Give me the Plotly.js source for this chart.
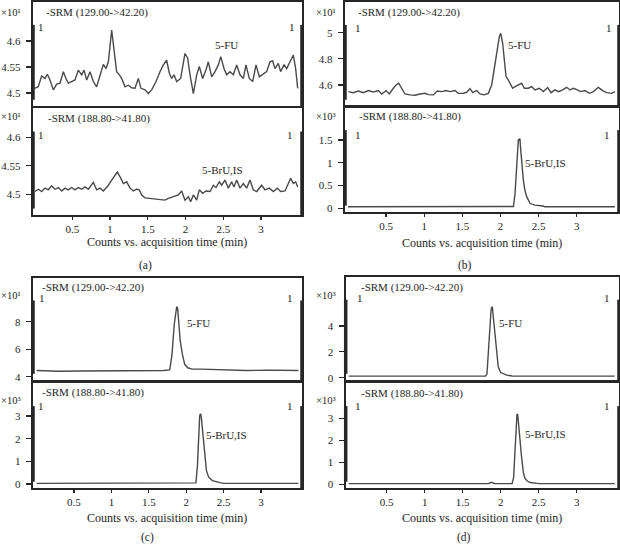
<!DOCTYPE html>
<html>
<head>
<meta charset="utf-8">
<script src="https://cdn.plot.ly/plotly-3.0.1.min.js"></script>
<style>
  html, body { margin: 0; padding: 0; background: #fff; }
  #chart { width: 620px; height: 545px; }
</style>
</head>
<body>
<div id="chart"></div>
<script>
// ---- data (time in min, counts in x10^n) ----

// (a) SRM 129.00->42.20 (x10^1)
let aTopTime = [0.0, 0.05, 0.095, 0.139, 0.17, 0.205, 0.249, 0.294, 0.338, 0.382,
  0.417, 0.448, 0.492, 0.536, 0.58, 0.625, 0.656, 0.691, 0.735, 0.779,
  0.823, 0.868, 0.912, 0.947, 0.978, 1.022, 1.053, 1.088, 1.124, 1.154,
  1.199, 1.243, 1.287, 1.331, 1.375, 1.41, 1.464, 1.508, 1.552, 1.609,
  1.662, 1.706, 1.75, 1.786, 1.817, 1.848, 1.883, 1.936, 1.993, 2.029,
  2.06, 2.104, 2.148, 2.183, 2.227, 2.271, 2.302, 2.347, 2.391, 2.435,
  2.466, 2.51, 2.545, 2.589, 2.633, 2.678, 2.722, 2.766, 2.801, 2.845,
  2.89, 2.934, 2.978, 3.022, 3.075, 3.119, 3.154, 3.185, 3.229, 3.26,
  3.305, 3.34, 3.384, 3.428, 3.459, 3.486]
let aTopCounts = [4.509, 4.512, 4.533, 4.528, 4.536, 4.525, 4.506, 4.517, 4.519, 4.541,
  4.528, 4.519, 4.522, 4.525, 4.544, 4.535, 4.544, 4.525, 4.541, 4.522,
  4.512, 4.535, 4.555, 4.547, 4.56, 4.621, 4.579, 4.541, 4.535, 4.528,
  4.512, 4.515, 4.51, 4.509, 4.528, 4.509, 4.506, 4.499, 4.506, 4.522,
  4.541, 4.554, 4.563, 4.538, 4.528, 4.535, 4.522, 4.528, 4.576, 4.567,
  4.535, 4.499, 4.535, 4.551, 4.528, 4.544, 4.56, 4.531, 4.541, 4.554,
  4.57, 4.547, 4.535, 4.541, 4.535, 4.554, 4.535, 4.528, 4.554, 4.528,
  4.522, 4.554, 4.531, 4.535, 4.541, 4.56, 4.562, 4.547, 4.557, 4.541,
  4.554, 4.547, 4.56, 4.573, 4.547, 4.509]

// (a) SRM 188.80->41.80 (x10^1)
let aBotTime = [0.007, 0.051, 0.095, 0.139, 0.183, 0.227, 0.271, 0.316, 0.36, 0.404,
  0.448, 0.492, 0.536, 0.58, 0.625, 0.669, 0.713, 0.779, 0.823, 0.868,
  0.912, 0.978, 1.022, 1.066, 1.097, 1.132, 1.177, 1.221, 1.265, 1.309,
  1.353, 1.388, 1.419, 1.464, 1.53, 1.596, 1.662, 1.728, 1.773, 1.839,
  1.905, 1.949, 1.993, 2.038, 2.068, 2.104, 2.148, 2.183, 2.227, 2.271,
  2.325, 2.369, 2.404, 2.448, 2.479, 2.523, 2.567, 2.611, 2.642, 2.678,
  2.722, 2.766, 2.81, 2.854, 2.898, 2.943, 3.009, 3.053, 3.11, 3.163,
  3.216, 3.26, 3.318, 3.362, 3.393, 3.428, 3.459, 3.486]
let aBotCounts = [4.505, 4.509, 4.505, 4.511, 4.508, 4.515, 4.509, 4.512, 4.506, 4.511,
  4.508, 4.512, 4.508, 4.512, 4.509, 4.513, 4.509, 4.521, 4.508, 4.511,
  4.506, 4.516, 4.525, 4.534, 4.539, 4.531, 4.519, 4.522, 4.511, 4.506,
  4.509, 4.508, 4.499, 4.494, 4.493, 4.492, 4.49, 4.49, 4.493, 4.496,
  4.499, 4.506, 4.49, 4.496, 4.487, 4.499, 4.49, 4.508, 4.502, 4.506,
  4.505, 4.516, 4.512, 4.522, 4.516, 4.525, 4.511, 4.522, 4.513, 4.525,
  4.511, 4.519, 4.511, 4.525, 4.508, 4.505, 4.516, 4.508, 4.511, 4.505,
  4.511, 4.505, 4.506, 4.519, 4.528, 4.519, 4.522, 4.513]

// (b) SRM 129.00->42.20 (x10^1)
let bTopTime = [0.006, 0.071, 0.137, 0.202, 0.268, 0.333, 0.399, 0.443, 0.5, 0.543,
  0.596, 0.631, 0.666, 0.705, 0.748, 0.814, 0.88, 0.945, 1.011, 1.054,
  1.12, 1.172, 1.229, 1.286, 1.338, 1.404, 1.448, 1.513, 1.557, 1.601,
  1.636, 1.688, 1.732, 1.784, 1.841, 1.885, 1.92, 1.95, 1.985, 2.003,
  2.029, 2.051, 2.073, 2.103, 2.134, 2.16, 2.191, 2.234, 2.278, 2.313,
  2.365, 2.409, 2.453, 2.51, 2.562, 2.619, 2.663, 2.715, 2.759, 2.815,
  2.868, 2.912, 2.955, 3.008, 3.051, 3.108, 3.165, 3.218, 3.283, 3.34,
  3.392, 3.458, 3.502]
let bTopCounts = [4.549, 4.541, 4.554, 4.541, 4.557, 4.546, 4.557, 4.531, 4.557, 4.531,
  4.575, 4.6, 4.613, 4.575, 4.531, 4.524, 4.521, 4.531, 4.536, 4.526,
  4.524, 4.554, 4.549, 4.557, 4.549, 4.557, 4.536, 4.536, 4.544, 4.572,
  4.541, 4.557, 4.531, 4.524, 4.536, 4.6, 4.74, 4.868, 4.97, 4.995,
  4.919, 4.791, 4.664, 4.638, 4.6, 4.575, 4.587, 4.6, 4.613, 4.575,
  4.575, 4.587, 4.562, 4.575, 4.549, 4.58, 4.541, 4.562, 4.549, 4.562,
  4.582, 4.562, 4.575, 4.562, 4.549, 4.557, 4.536, 4.549, 4.582, 4.557,
  4.541, 4.536, 4.549]

// (b) SRM 188.80->41.80 (x10^3)
let bBotTime = [0, 0.5, 1, 1.5, 2, 2.17, 2.19, 2.205, 2.221, 2.235, 2.243, 2.255,
  2.265, 2.28, 2.3, 2.32, 2.344, 2.387, 2.45, 2.56, 2.58, 3, 3.5]
let bBotCounts = [0.035, 0.035, 0.035, 0.035, 0.035, 0.04, 0.3, 0.8, 1.3, 1.52, 1.5, 1.53,
  1.3, 0.9, 0.62, 0.4, 0.256, 0.11, 0.07, 0.05, 0.035, 0.035, 0.035]

// (c) SRM 129.00->42.20 (x10^1)
let cTopTime = [0, 0.3, 0.6, 0.9, 1.2, 1.5, 1.7, 1.78, 1.81, 1.84, 1.86, 1.873, 1.885,
  1.9, 1.92, 1.95, 1.98, 2.02, 2.08, 2.2, 2.5, 2.8, 3.1, 3.3, 3.5]
let cTopCounts = [4.45, 4.4, 4.42, 4.42, 4.45, 4.42, 4.45, 4.5, 5.6, 7.8, 8.8, 9.1, 9.0,
  7.9, 6.6, 5.6, 4.9, 4.65, 4.55, 4.55, 4.5, 4.45, 4.48, 4.45, 4.45]

// (c) SRM 188.80->41.80 (x10^3)
let cBotTime = [0, 0.5, 1, 1.5, 2, 2.1, 2.13, 2.15, 2.165, 2.18, 2.19, 2.2, 2.215, 2.23,
  2.25, 2.27, 2.3, 2.35, 2.45, 2.5, 3, 3.5]
let cBotCounts = [0.03, 0.03, 0.03, 0.03, 0.03, 0.03, 0.05, 0.8, 2.0, 3.0, 3.1, 3.0, 2.5, 1.9,
  1.1, 0.6, 0.3, 0.15, 0.06, 0.03, 0.03, 0.03]

// (d) SRM 129.00->42.20 (x10^3)
let dTopTime = [0, 0.5, 1, 1.5, 1.8, 1.82, 1.84, 1.86, 1.875, 1.89, 1.905, 1.925, 1.945,
  1.968, 2.0, 2.04, 2.08, 2.15, 2.5, 3, 3.5]
let dTopCounts = [0.12, 0.12, 0.12, 0.12, 0.12, 0.3, 1.8, 4.0, 5.3, 5.5, 4.6, 3.2, 1.8,
  0.85, 0.4, 0.3, 0.2, 0.13, 0.12, 0.12, 0.12]

// (d) SRM 188.80->41.80 (x10^3)
let dBotTime = [0, 0.5, 1, 1.5, 1.84, 1.87, 1.89, 1.92, 2.0, 2.15, 2.17, 2.185, 2.2, 2.215,
  2.225, 2.24, 2.255, 2.27, 2.285, 2.3, 2.32, 2.35, 2.39, 2.45, 2.5, 3, 3.5]
let dBotCounts = [0.03, 0.03, 0.03, 0.03, 0.03, 0.08, 0.08, 0.03, 0.02, 0.03, 0.3, 1.3, 2.6, 3.2,
  3.15, 2.7, 2.0, 1.4, 0.8, 0.5, 0.27, 0.15, 0.08, 0.06, 0.03, 0.03, 0.03]

let xTickVals = [0.5, 1, 1.5, 2, 2.5, 3]
let xTickText = ['0.5', '1', '1.5', '2', '2.5', '3']
let srmTop = '-SRM (129.00->42.20)'
let srmBot = '-SRM (188.80->41.80)'
let axisTitle = 'Counts vs. acquisition time (min)'

// ---- layout helpers (pixel -> paper) ----
const W = 620, H = 545
let px = function(x) { return x / W }
let py = function(y) { return 1 - y / H }

const FONT = 'Liberation Serif, DejaVu Serif, serif'
const INK = '#262626'

// one entry per subplot: [time, counts, xdom px, ydom px (top,bottom), xrange, yrange, ytickvals, yticktext, bottom?]
let panels = [
  [aTopTime, aTopCounts, [33, 302], [2, 106], [-0.02, 3.543], [4.475, 4.675], [4.5, 4.55, 4.6], ['4.5', '4.55', '4.6'], false],
  [aBotTime, aBotCounts, [33, 302], [108, 215], [-0.02, 3.543], [4.464, 4.651], [4.5, 4.55, 4.6], ['4.5', '4.55', '4.6'], true],
  [bTopTime, bTopCounts, [345, 619], [2, 106], [-0.038, 3.554], [4.439, 5.235], [4.6, 4.8, 5], ['4.6', '4.8', '5'], false],
  [bBotTime, bBotCounts, [345, 619], [107, 212], [-0.038, 3.554], [-0.081, 2.225], [0, 0.5, 1, 1.5], ['0', '0.5', '1', '1.5'], true],
  [cTopTime, cTopCounts, [33, 302], [278, 380], [-0.048, 3.548], [3.76, 11.18], [4, 6, 8], ['4', '6', '8'], false],
  [cBotTime, cBotCounts, [33, 302], [383, 488], [-0.048, 3.548], [-0.176, 4.456], [0, 1, 2, 3], ['0', '1', '2', '3'], true],
  [dTopTime, dTopCounts, [345.7, 619], [277, 380], [-0.039, 3.557], [-0.178, 7.79], [0, 2, 4], ['0', '2', '4'], false],
  [dBotTime, dBotCounts, [345.7, 619], [383, 488], [-0.039, 3.557], [-0.168, 4.6], [0, 1, 2, 3], ['0', '1', '2', '3'], true]
]

let data = []
let layout = {
  width: W, height: H,
  margin: {l: 0, r: 0, t: 0, b: 0},
  paper_bgcolor: '#fff', plot_bgcolor: '#fff',
  showlegend: false,
  font: {family: FONT, size: 11, color: INK},
  annotations: [],
  shapes: []
}

panels.forEach(function(p, i) {
  let n = i + 1
  let xs = n === 1 ? '' : String(n)
  data.push({
    x: p[0], y: p[1],
    xaxis: 'x' + xs, yaxis: 'y' + xs,
    type: 'scatter', mode: 'lines',
    line: {color: '#4a4a4a', width: 1.4},
    hoverinfo: 'skip'
  })
  layout['xaxis' + xs] = {
    domain: [px(p[2][0]), px(p[2][1])],
    range: p[4], anchor: 'y' + xs,
    showline: true, mirror: true, linecolor: INK, linewidth: 2.2,
    showgrid: false, zeroline: false,
    tickvals: xTickVals, ticktext: xTickText,
    ticks: p[8] ? 'outside' : '', ticklen: 3, tickwidth: 1.2, tickcolor: INK,
    showticklabels: p[8],
    tickfont: {family: FONT, size: 11, color: INK}
  }
  layout['yaxis' + xs] = {
    domain: [py(p[3][1]), py(p[3][0])],
    range: p[5], anchor: 'x' + xs,
    showline: true, mirror: true, linecolor: INK, linewidth: 2.2,
    showgrid: false, zeroline: false,
    tickvals: p[6], ticktext: p[7],
    ticks: 'outside', ticklen: 5, tickwidth: 1.2, tickcolor: INK,
    ticklabelstandoff: 3,
    tickfont: {family: FONT, size: 11, color: INK}
  }
  // thick segment markers on the left and right edges
  layout.shapes.push({type: 'line', xref: 'x' + xs + ' domain', yref: 'y' + xs + ' domain',
    x0: 0, x1: 0, y0: 0.06, y1: 0.78, line: {color: INK, width: 3.5}})
  layout.shapes.push({type: 'line', xref: 'x' + xs + ' domain', yref: 'y' + xs + ' domain',
    x0: 1, x1: 1, y0: 0, y1: 0.78, line: {color: INK, width: 3.5}})
})

let ann = function(text, x, y, xanchor, size) {
  return {text: text, x: x, y: y, xref: 'paper', yref: 'paper',
    xanchor: xanchor, yanchor: 'middle', showarrow: false,
    font: {family: FONT, size: size, color: INK}}
}

// SRM labels, "1" markers and x10^n multipliers
let boxLabels = [
  // [srm text, srm x, srm y, one-left x, one-right x(right edge), one y, mult text, mult right x, mult y]
  [srmTop, 44, 12, 36, 296.5, 27, '×10¹', 23, 12],
  [srmBot, 46, 118, 36, 295, 135, '×10¹', 23, 117],
  [srmTop, 356, 12, 353, 613.5, 28, '×10¹', 338, 12],
  [srmBot, 356.5, 117, 353, 612, 135, '×10³', 338, 117],
  [srmTop, 40, 287, 36.5, 295, 298, '×10¹', 23, 295],
  [srmBot, 40, 392, 36, 295, 406, '×10³', 23, 400],
  [srmTop, 359, 287, 355, 612, 298, '×10³', 338, 295],
  [srmBot, 359, 393, 353, 612, 406, '×10³', 338, 400]
]
boxLabels.forEach(function(b) {
  layout.annotations.push(ann(b[0], px(b[1]), py(b[2]), 'left', 11))
  layout.annotations.push(ann('1', px(b[3]), py(b[5]), 'left', 11))
  layout.annotations.push(ann('1', px(b[4]), py(b[5]), 'right', 11))
  layout.annotations.push(ann(b[6], px(b[7]), py(b[8]), 'right', 10.5))
})

// peak labels (data coordinates)
let peakLabels = [
  ['5-FU', 2.364, 4.592, ''], ['5-BrU,IS', 2.192, 4.542, '2'],
  ['5-FU', 2.073, 4.906, '3'], ['5-BrU,IS', 2.292, 0.991, '4'],
  ['5-FU', 1.984, 7.905, '5'], ['5-BrU,IS', 2.238, 2.159, '6'],
  ['5-FU', 1.947, 4.24, '7'], ['5-BrU,IS', 2.293, 2.286, '8']
]
peakLabels.forEach(function(l) {
  layout.annotations.push({text: l[0], x: l[1], y: l[2], xref: 'x' + l[3], yref: 'y' + l[3],
    xanchor: 'left', yanchor: 'middle', showarrow: false,
    font: {family: FONT, size: 11, color: INK}})
})

// axis titles and panel letters
let captions = [[167, 242, '(a)', 145, 265], [482, 243, '(b)', 465, 265],
  [167, 518, '(c)', 147, 537], [482, 518, '(d)', 464, 537]]
captions.forEach(function(c) {
  layout.annotations.push(ann(axisTitle, px(c[0]), py(c[1]), 'center', 12))
  layout.annotations.push(ann(c[2], px(c[3]), py(c[4]), 'center', 11.5))
})

Plotly.newPlot('chart', data, layout, {staticPlot: true, displayModeBar: false})
</script>
</body>
</html>
